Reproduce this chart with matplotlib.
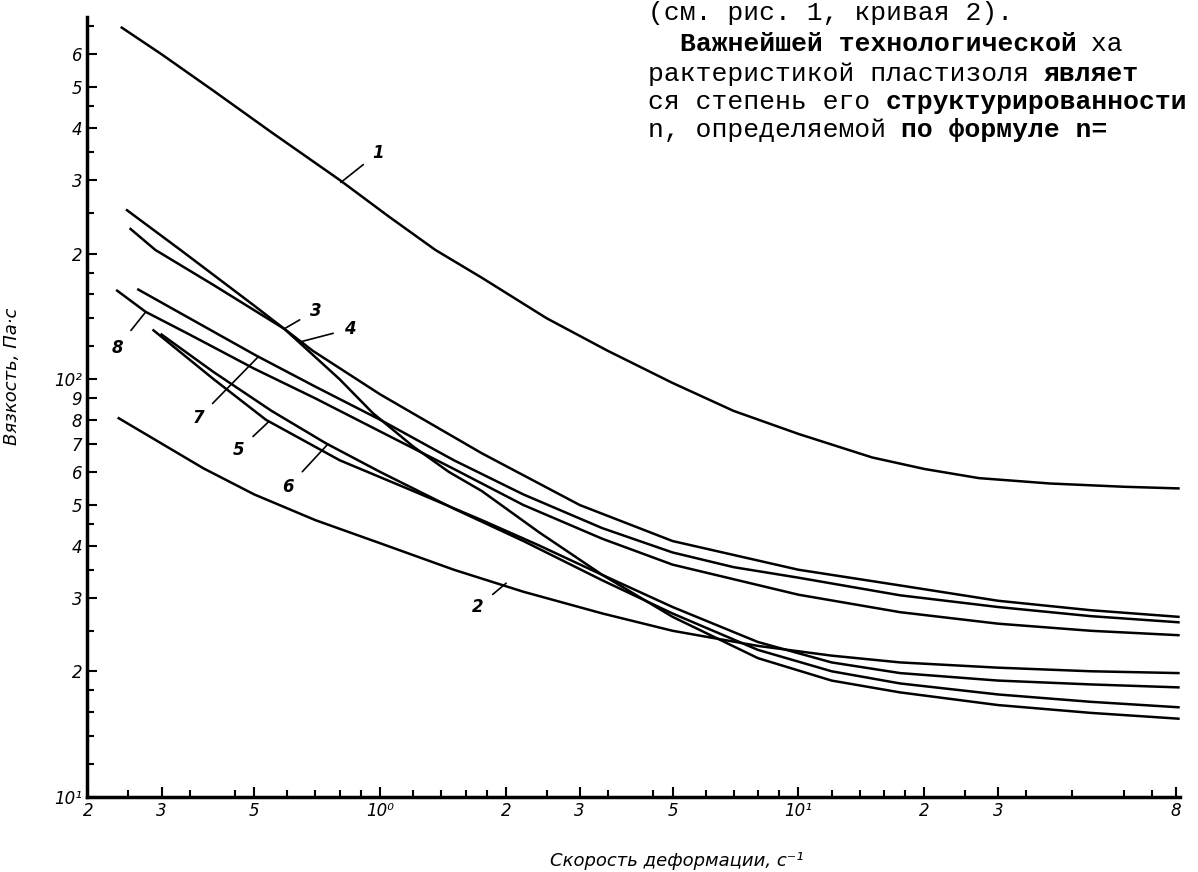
import numpy as np
import matplotlib.pyplot as plt
from matplotlib.ticker import FixedLocator, FixedFormatter, NullFormatter

# Вязкость пластизолей в зависимости от скорости деформации (кривые 1-8)
c1_x = [0.241, 0.3, 0.4, 0.55, 0.8, 1.05, 1.355, 1.75, 2.5, 3.5, 5, 7, 10, 15, 20, 27, 40, 60, 81]
c1_y = [695, 600, 490, 390, 300, 245, 204, 175, 140, 117, 98, 84, 74, 65, 61, 58, 56.3, 55.3, 54.8]

c2_x = [0.237, 0.378, 0.5, 0.7, 1.0, 1.5, 2.2, 3.4, 5, 8, 12, 17.5, 30, 50, 81]
c2_y = [80.7, 61.2, 53, 46, 40.5, 35, 31, 27.5, 25, 23, 21.8, 21.0, 20.4, 20.0, 19.8]

c3_x = [0.253, 0.29, 0.4, 0.59, 0.8, 0.96, 1.2, 1.46, 1.75, 2.4, 3.4, 5, 8, 12, 17.5, 30, 50, 81]
c3_y = [229, 204, 168, 132, 100, 83, 69, 60, 54, 43, 34, 27, 21.5, 19, 17.8, 16.6, 15.9, 15.4]

c4_x = [0.248, 0.333, 0.5, 0.69, 1.0, 1.75, 3, 5, 10, 17.5, 30, 50, 81]
c4_y = [254, 204, 150, 117, 92, 66.5, 50, 41, 35, 32.1, 29.5, 28, 27]

c5_x = [0.287, 0.4, 0.533, 0.8, 1.2, 1.75, 2.4, 3.4, 5, 8, 12, 17.5, 30, 50, 81]
c5_y = [131, 100, 80, 64, 54, 46, 40, 34, 28.5, 23.5, 21, 19.8, 19.0, 18.6, 18.3]

c6_x = [0.30, 0.4, 0.55, 0.741, 1.0, 1.5, 2.2, 3.4, 5, 8, 12, 17.5, 30, 50, 81]
c6_y = [128, 104, 84, 70.3, 60, 49, 41, 33, 27.5, 22.5, 20, 18.7, 17.6, 16.9, 16.4]

c7_x = [0.264, 0.35, 0.505, 0.7, 1.0, 1.5, 2.2, 3.4, 5, 7, 10, 17.5, 30, 50, 81]
c7_y = [164, 140, 114, 96, 80, 64, 53, 44, 38.5, 35.5, 33.5, 30.4, 28.5, 27.1, 26.2]

c8_x = [0.235, 0.275, 0.35, 0.5, 0.7, 1.0, 1.5, 2.2, 3.4, 5, 10, 17.5, 30, 50, 81]
c8_y = [163, 145, 128, 106, 90, 75, 61, 50, 41.5, 36, 30.5, 27.7, 26, 25, 24.4]

curves = [(c1_x, c1_y), (c2_x, c2_y), (c3_x, c3_y), (c4_x, c4_y),
          (c5_x, c5_y), (c6_x, c6_y), (c7_x, c7_y), (c8_x, c8_y)]

# номера кривых: (текст, позиция текста, конец выноски)
labels = [('1', (0.99, 349), (0.805, 296)),
          ('2', (1.71, 28.5), (2.0, 32.5)),
          ('3', (0.70, 146), (0.589, 132)),
          ('4', (0.846, 132), (0.646, 123)),
          ('5', (0.458, 67.6), (0.54, 79)),
          ('6', (0.602, 55.2), (0.75, 70)),
          ('7', (0.367, 80.7), (0.51, 113)),
          ('8', (0.235, 119), (0.275, 145))]

x_ticks = [2, 3, 5, 10, 20, 30, 50, 100, 200, 300, 800]
x_tick_labels = ['2', '3', '5', '10⁰', '2', '3', '5', '10¹', '2', '3', '8']
y_ticks = [10, 20, 30, 40, 50, 60, 70, 80, 90, 100, 200, 300, 400, 500, 600]
y_tick_labels = ['10¹', '2', '3', '4', '5', '6', '7', '8', '9', '10²',
                 '2', '3', '4', '5', '6']

# текст страницы справа вверху: (отступ в символах, [(фрагмент, жирный)])
text_lines = [(0, [('(см. рис. 1, кривая 2).', False)]),
              (2, [('Важнейшей технологической', True), (' ха', False)]),
              (0, [('рактеристикой пластизоля ', False), ('являет', True)]),
              (0, [('ся степень его ', False), ('структурированности', True)]),
              (0, [('n, определяемой ', False), ('по формуле n=', True)])]

fig = plt.figure(figsize=(11.98, 8.72), dpi=100)
ax = fig.add_axes([0.0726, 0.086, 0.912, 0.894])

for x, y in curves:
    ax.plot(x, y, color='black', lw=1.8)

for t, (tx, ty), (lx, ly) in labels:
    ax.annotate(t, xy=(lx, ly), xytext=(tx, ty), fontsize=12,
                fontstyle='italic', fontweight='bold', ha='center', va='center',
                arrowprops=dict(arrowstyle='-', color='black', lw=1.2,
                                shrinkA=6, shrinkB=0))

ax.set_xscale('log')
ax.set_yscale('log')
ax.set_xlim(0.199, 81.5)
ax.set_ylim(10, 735)

# шкала X: подписи в "старом" стиле (2, 3, 5, 10^0 ...)
ax.xaxis.set_major_locator(FixedLocator([v / 10 for v in x_ticks]))
ax.xaxis.set_major_formatter(FixedFormatter(x_tick_labels))
ax.yaxis.set_major_locator(FixedLocator(y_ticks))
ax.yaxis.set_major_formatter(FixedFormatter(y_tick_labels))
minor = []
for dec in [0.1, 1, 10, 100]:
    for m in [1.2, 1.4, 1.6, 1.8, 2.5, 3.5, 4.5, 6, 7, 8, 9]:
        minor.append(m * dec)
ax.xaxis.set_minor_locator(FixedLocator(minor))
ax.yaxis.set_minor_locator(FixedLocator([m for m in minor if m > 9 and m not in (60, 70, 80, 90)]))
ax.xaxis.set_minor_formatter(NullFormatter())
ax.yaxis.set_minor_formatter(NullFormatter())

ax.tick_params(which='both', direction='in', width=1.5, labelsize=12)
ax.tick_params(which='major', length=7)
ax.tick_params(which='minor', length=5)
for lab in ax.get_xticklabels() + ax.get_yticklabels():
    lab.set_fontstyle('italic')

for s in ['top', 'right']:
    ax.spines[s].set_visible(False)
for s in ['left', 'bottom']:
    ax.spines[s].set_linewidth(2.5)

ax.set_xlabel('Скорость деформации, с⁻¹', fontsize=13, fontstyle='italic')
ax.set_ylabel('Вязкость, Па·с', fontsize=13, fontstyle='italic')
ax.xaxis.set_label_coords(0.54, -0.07)
ax.yaxis.set_label_coords(-0.06, 0.54)

# моноширинный шрифт: ширина символа 0.6 em
fs = 19
char_w = 0.6 * fs * 100 / 72 / 1198
line_y = [13, 44, 74, 102, 130]
for (indent, parts), py in zip(text_lines, line_y):
    pos = 648 / 1198 + indent * char_w
    for frag, bold in parts:
        fig.text(pos, 1 - py / 872, frag, fontsize=fs, va='center', ha='left',
                 family='Liberation Mono',
                 fontweight='bold' if bold else 'normal')
        pos += len(frag) * char_w

fig.savefig('out.png', dpi=100)
